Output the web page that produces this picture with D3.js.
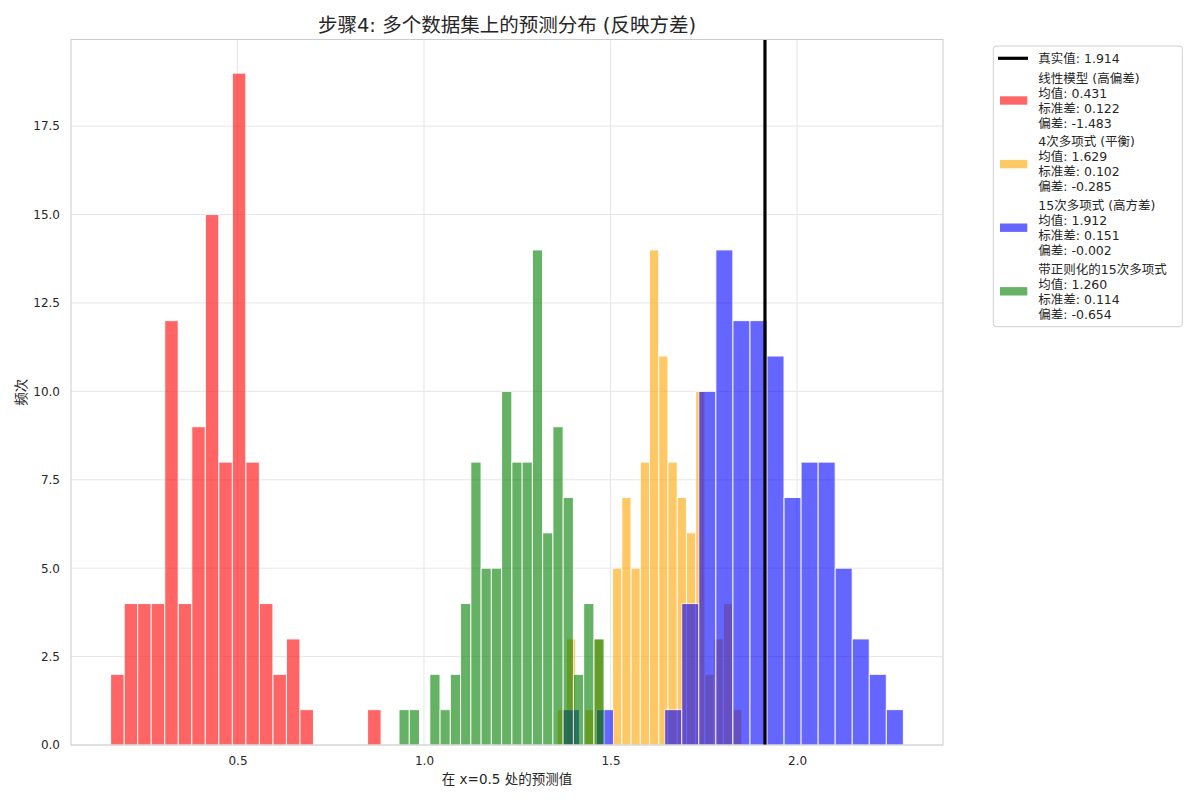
<!DOCTYPE html>
<html><head><meta charset="utf-8">
<script src="https://cdn.jsdelivr.net/npm/d3@7"></script>
<style>
body{margin:0;background:#fff}
svg text{font-family:"DejaVu Sans","Noto Sans CJK SC",sans-serif;}
</style>
</head><body>
<svg id="chart" width="1200" height="800"></svg>
<script>
// ---- data ----
const seriesNames = ["线性模型 (高偏差)", "4次多项式 (平衡)", "15次多项式 (高方差)", "带正则化的15次多项式"];
const seriesColors = ["red", "orange", "blue", "green"];
const redCounts    = [2,4,4,4,12,4,9,15,8,19,8,4,2,3,1,0,0,0,0,1];
const orangeCounts = [1,3,0,1,3,0,5,7,5,8,14,11,8,7,6,10,2,3,4,1];
const blueCounts   = [1,0,1,0,0,0,1,4,10,14,12,12,11,7,8,8,5,3,2,1];
const greenCounts  = [1,1,0,2,1,2,4,8,5,5,10,8,8,14,6,9,7,2,4,3];
const binRanges = [[0.160,0.885],[1.357,1.852],[1.371,2.285],[0.933,1.483]];
const means  = [0.431, 1.629, 1.912, 1.260];
const stds   = [0.122, 0.102, 0.151, 0.114];
const biases = [-1.483, -0.285, -0.002, -0.654];
const trueValue = 1.914;
const xTicks = [0.5, 1.0, 1.5, 2.0];
const yTicks = [0, 2.5, 5, 7.5, 10, 12.5, 15, 17.5];
const titleText = "步骤4: 多个数据集上的预测分布 (反映方差)";
const xLabel = "在 x=0.5 处的预测值";
const yLabel = "频次";
const trueLabel = "真实值: " + trueValue.toFixed(3);

const allCounts = [redCounts, orangeCounts, blueCounts, greenCounts];

// ---- layout ----
const svg = d3.select("#chart");
const M = {left: 71, right: 943, top: 39.5, bottom: 745};
const txt = "#262626";
const FONT = '"DejaVu Sans","Noto Sans CJK SC",sans-serif';

const allMin = d3.min(binRanges, r => r[0]), allMax = d3.max(binRanges, r => r[1]);
const pad = (allMax - allMin) * 0.05;
const x = d3.scaleLinear().domain([allMin - pad, allMax + pad]).range([M.left, M.right]);
const yMax = d3.max(allCounts.flat()) * 1.05;
const y = d3.scaleLinear().domain([0, yMax]).range([M.bottom, M.top]);

// grid
const grid = svg.append("g");
grid.selectAll("line.v").data(xTicks).join("line")
  .attr("x1", d => x(d)).attr("x2", d => x(d))
  .attr("y1", M.top).attr("y2", M.bottom)
  .attr("stroke", "#e6e6e6").attr("stroke-width", 1);
grid.selectAll("line.h").data(yTicks).join("line")
  .attr("x1", M.left).attr("x2", M.right)
  .attr("y1", d => y(d)).attr("y2", d => y(d))
  .attr("stroke", "#e6e6e6").attr("stroke-width", 1);

// bars
allCounts.forEach((counts, i) => {
  const [r0, r1] = binRanges[i];
  const w = (r1 - r0) / counts.length;
  const bins = counts.map((c, j) => ({c, a: r0 + j * w, b: r0 + (j + 1) * w})).filter(d => d.c > 0);
  svg.append("g").selectAll("rect").data(bins).join("rect")
    .attr("x", d => x(d.a)).attr("width", d => x(d.b) - x(d.a))
    .attr("y", d => y(d.c)).attr("height", d => y(0) - y(d.c))
    .attr("fill", seriesColors[i]).attr("stroke", "white").attr("stroke-width", 1)
    .attr("opacity", 0.6);
});

// true value line
svg.append("line")
  .attr("x1", x(trueValue)).attr("x2", x(trueValue))
  .attr("y1", M.top).attr("y2", M.bottom)
  .attr("stroke", "black").attr("stroke-width", 3.2);

// frame
svg.append("rect").attr("x", M.left).attr("y", M.top)
  .attr("width", M.right - M.left).attr("height", M.bottom - M.top)
  .attr("fill", "none").attr("stroke", "#cccccc").attr("stroke-width", 1);

// axes
const xAxis = svg.append("g").attr("transform", `translate(0,${M.bottom})`)
  .call(d3.axisBottom(x).tickValues(xTicks).tickSize(0).tickPadding(11).tickFormat(d3.format(".1f")));
const yAxis = svg.append("g").attr("transform", `translate(${M.left},0)`)
  .call(d3.axisLeft(y).tickValues(yTicks).tickSize(0).tickPadding(11).tickFormat(d3.format(".1f")));
[xAxis, yAxis].forEach(a => {
  a.select(".domain").remove();
  a.selectAll("text").attr("fill", txt).style("font-size", "12px").style("font-family", FONT);
});

// title & labels
svg.append("text").attr("x", (M.left + M.right) / 2).attr("y", 31.5)
  .attr("text-anchor", "middle").attr("fill", txt).style("font-size", "19.5px").text(titleText);
svg.append("text").attr("x", (M.left + M.right) / 2).attr("y", 783.5)
  .attr("text-anchor", "middle").attr("fill", txt).style("font-size", "13.5px").text(xLabel);
svg.append("text").attr("transform", `translate(25.5,${(M.top + M.bottom) / 2}) rotate(-90)`)
  .attr("text-anchor", "middle").attr("fill", txt).style("font-size", "13.5px").text(yLabel);

// legend
const L = {x: 993.3, y: 46, w: 189, h: 280.7, textX: 1038.3};
const lg = svg.append("g");
lg.append("rect").attr("x", L.x).attr("y", L.y).attr("width", L.w).attr("height", L.h)
  .attr("rx", 3).attr("fill", "white").attr("fill-opacity", 0.8)
  .attr("stroke", "#d0d0d0").attr("stroke-width", 1);
const fs = 12.5, lh = 15, firstCenter = 58.3, blockMid0 = 100.5, blockStep = 63.6;
lg.append("line").attr("x1", 998).attr("x2", 1028).attr("y1", firstCenter).attr("y2", firstCenter)
  .attr("stroke", "black").attr("stroke-width", 3.2);
lg.append("text").attr("x", L.textX).attr("y", firstCenter + 0.38 * fs)
  .attr("fill", txt).style("font-size", fs + "px").text(trueLabel);
seriesNames.forEach((name, i) => {
  const mid = blockMid0 + i * blockStep;
  const lines = [name, "均值: " + means[i].toFixed(3), "标准差: " + stds[i].toFixed(3), "偏差: " + biases[i].toFixed(3)];
  lg.append("rect").attr("x", 1000).attr("y", mid - 4.2).attr("width", 27.3).attr("height", 8.4)
    .attr("fill", seriesColors[i]).attr("opacity", 0.6);
  lines.forEach((s, k) => {
    lg.append("text").attr("x", L.textX).attr("y", mid + (k - 1.5) * lh + 0.38 * fs)
      .attr("fill", txt).style("font-size", fs + "px").text(s);
  });
});
</script>
</body></html>
